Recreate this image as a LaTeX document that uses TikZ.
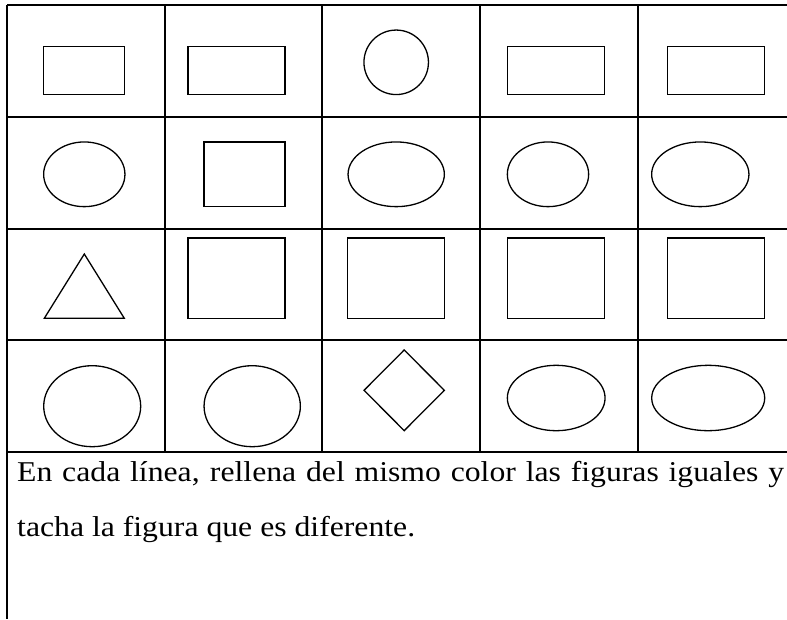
\documentclass[tikz,border=0pt]{standalone}
\usepackage{fontspec}
\usepackage{graphicx}
\setmainfont{Liberation Serif}
\usetikzlibrary{shapes.geometric, positioning}

\tikzset{
    gridline/.style={line width=2pt},
    fig/.style={draw, line width=1.3pt, inner sep=0pt, outer sep=0pt},
    box/.style={fig, rectangle, minimum width=#1},
    box/.default=81pt,
    oval/.style={fig, ellipse},
    texto/.style={anchor=base west, inner sep=0pt, font=\fontsize{28.7}{55}\selectfont}
}
\newcommand{\ancho}[1]{\scalebox{1.105}[1]{#1}}

\begin{document}
\begin{tikzpicture}[x=1pt, y=-1pt]
                \useasboundingbox (0,0) rectangle (787,619);

                % cuadricula
                \draw [gridline] (7,5) -- (787,5);
                \draw [gridline] (7,117) -- (787,117);
                \draw [gridline] (7,229) -- (787,229);
                \draw [gridline] (7,340) -- (787,340);
                \draw [gridline] (7,452) -- (787,452);
                \draw [gridline] (7,5) -- (7,619);
                \draw [gridline] (165,5) -- (165,452);
                \draw [gridline] (322,5) -- (322,452);
                \draw [gridline] (480,5) -- (480,452);
                \draw [gridline] (638,5) -- (638,452);

                % fila 1
                \node [box, minimum height=48.5pt] (F11) at (84.3,70.5) {};
                \node [box=97pt, minimum height=48.5pt] (F12) at (236.5,70.5) {};
                \node [fig, circle, minimum size=64.5pt] (F13) at (396.2,62.3) {};
                \node [box=97pt, minimum height=48.5pt] (F14) at (556.2,70.5) {};
                \node [box=97pt, minimum height=48.5pt] (F15) at (716.2,70.5) {};

                % fila 2
                \node [oval, minimum width=81.3pt, minimum height=64.7pt] (F21) at (84.3,174.3) {};
                \node [box, minimum height=64.7pt] (F22) at (244.5,174.3) {};
                \node [oval, minimum width=96.3pt, minimum height=64.7pt] (F23) at (396.2,174.3) {};
                \node [oval, minimum width=81.3pt, minimum height=64.7pt] (F24) at (548,174.3) {};
                \node [oval, minimum width=97.3pt, minimum height=64.7pt] (F25) at (700.3,174.3) {};

                % fila 3
                \draw [line width=1.3pt, line join=miter] (84.3,254) -- (124.3,318.3) -- (44.3,318.3) -- cycle;
                \node [box=97pt, minimum height=80.7pt] (F32) at (236.5,278.3) {};
                \node [box=97pt, minimum height=80.7pt] (F33) at (396.3,278.3) {};
                \node [box=97pt, minimum height=80.7pt] (F34) at (556.2,278.3) {};
                \node [box=97pt, minimum height=80.7pt] (F35) at (716.2,278.3) {};

                % fila 4
                \node [oval, minimum width=97pt, minimum height=81pt] (F41) at (92.2,406.2) {};
                \node [oval, minimum width=96.3pt, minimum height=81pt] (F42) at (252.2,406.2) {};
                \node [fig, diamond, minimum width=80.3pt, minimum height=80.7pt] (F43) at (404.2,390.3) {};
                \node [oval, minimum width=97.7pt, minimum height=65.4pt] (F44) at (556.2,398) {};
                \node [oval, minimum width=113pt, minimum height=65.4pt] (F45) at (708.2,398) {};

                \node [texto] (L1) at (17,481.7) {\ancho{\hbox to 694pt{En cada línea, rellena del mismo color las figuras iguales y}}};
                \node [texto] (L2) at (17,536.7) {\ancho{tacha la figura que es diferente.}};
            \end{tikzpicture}
\end{document}
